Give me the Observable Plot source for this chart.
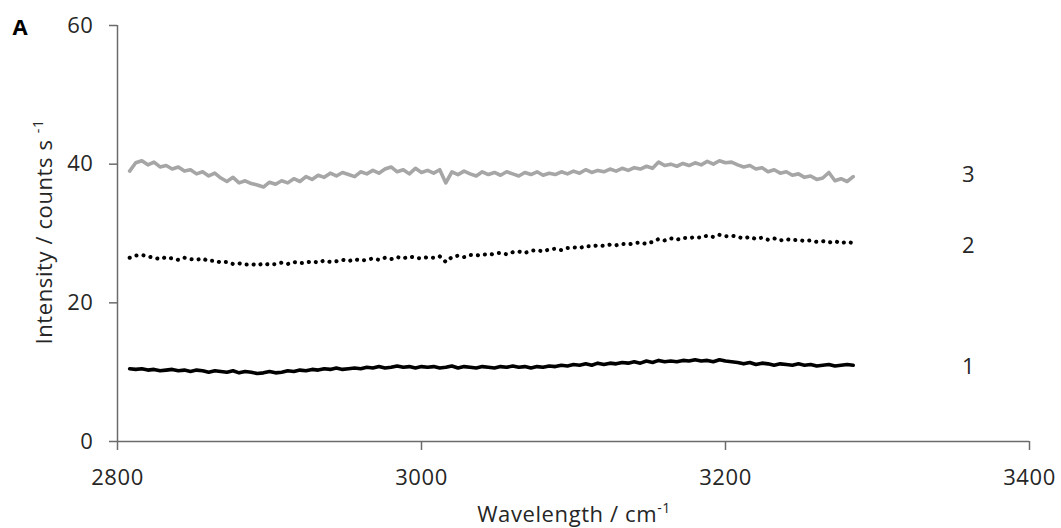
<!DOCTYPE html>
<html><head><meta charset="utf-8">
<script src="https://cdn.jsdelivr.net/npm/d3@7"></script>
<script src="https://cdn.jsdelivr.net/npm/@observablehq/plot@0.6"></script>
<style>
html,body{margin:0;padding:0;background:#fff;}
#chart{position:relative;width:1061px;height:528px;}
</style></head><body><div id="chart"></div>
<script>
const wavenumber = [
2808,2812,2816,2820,2824,2828,2832,2836,2840,2844,
2848,2852,2856,2860,2864,2868,2872,2876,2880,2884,
2888,2892,2896,2900,2904,2908,2912,2916,2920,2924,
2928,2932,2936,2940,2944,2948,2952,2956,2960,2964,
2968,2972,2976,2980,2984,2988,2992,2996,3000,3004,
3008,3012,3016,3020,3024,3028,3032,3036,3040,3044,
3048,3052,3056,3060,3064,3068,3072,3076,3080,3084,
3088,3092,3096,3100,3104,3108,3112,3116,3120,3124,
3128,3132,3136,3140,3144,3148,3152,3156,3160,3164,
3168,3172,3176,3180,3184,3188,3192,3196,3200,3204,
3208,3212,3216,3220,3224,3228,3232,3236,3240,3244,
3248,3252,3256,3260,3264,3268,3272,3276,3280,3284];

const series1 = [
10.5,10.4,10.5,10.3,10.4,10.2,10.3,10.4,10.2,10.3,
10.1,10.3,10.2,10.0,10.2,10.1,10.0,10.2,9.9,10.1,
10.0,9.8,9.9,10.1,9.9,10.0,10.2,10.1,10.3,10.2,
10.4,10.3,10.5,10.4,10.6,10.4,10.5,10.6,10.5,10.7,
10.6,10.8,10.6,10.7,10.9,10.7,10.8,10.6,10.8,10.7,
10.8,10.6,10.7,10.9,10.6,10.8,10.7,10.6,10.8,10.7,
10.6,10.8,10.7,10.9,10.7,10.8,10.6,10.8,10.7,10.9,
10.8,11.0,10.9,11.1,11.0,11.2,11.0,11.3,11.1,11.3,
11.2,11.4,11.3,11.5,11.3,11.6,11.4,11.7,11.5,11.6,
11.5,11.7,11.6,11.8,11.6,11.7,11.5,11.8,11.6,11.5,
11.4,11.2,11.4,11.1,11.3,11.2,11.0,11.2,11.1,11.0,
11.2,11.0,11.1,10.9,11.0,11.1,10.9,11.0,11.1,11.0];

const series2 = [
26.5,26.8,26.9,26.7,26.5,26.3,26.6,26.4,26.2,26.5,
26.3,26.2,26.4,26.0,26.1,25.8,25.9,25.6,25.7,25.5,
25.6,25.4,25.7,25.5,25.6,25.8,25.6,25.9,25.7,25.8,
26.0,25.8,26.1,25.9,26.0,26.2,26.0,26.3,26.1,26.2,
26.4,26.2,26.5,26.3,26.6,26.4,26.7,26.5,26.4,26.6,
26.5,26.7,25.9,26.6,26.8,26.6,26.9,26.8,27.0,26.9,
27.1,27.2,27.0,27.3,27.4,27.2,27.5,27.6,27.4,27.7,
27.8,27.6,27.9,28.0,27.9,28.2,28.1,28.3,28.2,28.4,
28.3,28.5,28.4,28.6,28.7,28.5,28.8,29.2,29.0,29.3,
29.1,29.4,29.3,29.5,29.4,29.7,29.5,29.8,29.6,29.7,
29.5,29.3,29.5,29.2,29.4,29.1,29.3,29.0,29.2,29.0,
29.1,28.9,29.0,28.8,28.9,28.7,28.9,28.6,28.8,28.6];

const series3 = [
39.0,40.2,40.5,39.9,40.3,39.6,39.8,39.3,39.6,39.0,
39.2,38.6,38.9,38.3,38.7,38.0,37.5,38.1,37.3,37.6,
37.2,37.0,36.7,37.4,37.1,37.6,37.3,37.9,37.5,38.2,
37.8,38.4,38.1,38.7,38.3,38.8,38.5,38.2,38.9,38.6,
39.1,38.7,39.3,39.6,38.9,39.2,38.6,39.4,38.8,39.1,
38.7,39.2,37.3,38.9,38.5,39.0,38.6,38.3,38.9,38.5,
38.8,38.4,38.9,38.6,38.3,38.8,38.5,38.9,38.4,38.7,
38.5,38.9,38.6,39.0,38.7,39.2,38.8,39.1,38.9,39.3,
39.0,39.4,39.1,39.5,39.3,39.7,39.4,40.3,39.8,40.0,
39.7,40.1,39.8,40.2,39.9,40.4,40.0,40.5,40.2,40.3,
39.9,39.6,39.8,39.3,39.5,38.9,39.2,38.7,38.9,38.4,
38.6,38.1,38.3,37.8,38.0,38.8,37.6,37.9,37.5,38.2];

const yTicks = [0, 20, 40, 60];
const xTicks = [2800, 3000, 3200, 3400];
const endLabels = ["1", "2", "3"];
const endLabelY = [10.8, 28.2, 38.4];
const endLabelX = 3360;
const xTitle = "Wavelength / cm";
const yTitle = "Intensity / counts s ";
const titleSup = "-1";
const panelLetter = ["A"];

const rows = (vals) => wavenumber.map((x, i) => ({x, y: vals[i]}));
const labelRows = endLabels.map((t, i) => ({t, x: endLabelX, y: endLabelY[i]}));

const font = "'Open Sans', sans-serif";
const axisColor = "#6b6b6b";
const textColor = "#262626";

const plot = Plot.plot({
  width: 1061, height: 528,
  marginLeft: 117, marginRight: 32, marginTop: 25, marginBottom: 87,
  style: {fontFamily: font, fontSize: "22px", letterSpacing: "0.6px", color: textColor, background: "#fff", overflow: "visible"},
  x: {domain: [2800, 3400]},
  y: {domain: [0, 60]},
  marks: [
    Plot.axisY(yTicks, {tickSize: 8, tickPadding: 16, stroke: axisColor, strokeWidth: 1.5, strokeOpacity: 1, fill: textColor, fontSize: 22, label: null, tickFormat: d => String(d)}),
    Plot.axisX(xTicks, {tickSize: 9, tickPadding: 19, stroke: axisColor, strokeWidth: 1.5, strokeOpacity: 1, fill: textColor, fontSize: 22, label: null, tickFormat: d => String(d)}),
    Plot.ruleX([2800], {stroke: axisColor, strokeWidth: 1.5}),
    Plot.ruleY([0], {stroke: axisColor, strokeWidth: 1.5}),
    Plot.line(rows(series3), {x: "x", y: "y", stroke: "#a6a6a6", strokeWidth: 3.6, strokeLinejoin: "round"}),
    Plot.line(rows(series2), {x: "x", y: "y", stroke: "#000", strokeWidth: 4, strokeDasharray: "0.1 7", strokeLinecap: "round"}),
    Plot.line(rows(series1), {x: "x", y: "y", stroke: "#000", strokeWidth: 3.6, strokeLinejoin: "round"}),
    Plot.text(labelRows, {x: "x", y: "y", text: "t", fontSize: 22, fill: textColor}),
    Plot.text(panelLetter, {text: d => d, frameAnchor: "top-left", textAnchor: "start", lineAnchor: "top", dx: -105, dy: -6, fontSize: 22, fontWeight: "bold", fill: "#000"})
  ]
});
document.getElementById("chart").appendChild(plot);

const svg = d3.select(plot);
const xt = svg.append("text")
  .attr("x", 574).attr("y", 522)
  .attr("text-anchor", "middle")
  .style("font-family", font).style("font-size", "22px").style("letter-spacing", "0.6px").attr("fill", textColor)
  .text(xTitle);
xt.append("tspan").attr("dy", -9).style("font-size", "14px").text(titleSup);

const yt = svg.append("text")
  .attr("transform", "translate(52,232) rotate(-90)")
  .attr("text-anchor", "middle")
  .style("font-family", font).style("font-size", "22px").style("letter-spacing", "0.6px").attr("fill", textColor)
  .text(yTitle);
yt.append("tspan").attr("dy", -9).style("font-size", "14px").text(titleSup);
</script>
</body></html>
